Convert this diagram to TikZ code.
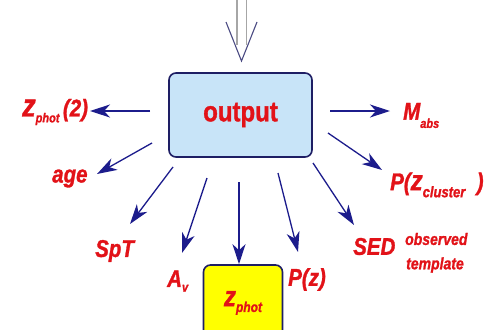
\documentclass[tikz,border=0pt]{standalone}
\usepackage{fontspec}
\setmainfont{Liberation Sans}
\newfontfamily\hvi{Liberation Sans Bold Italic}[FakeBold=1.3]
\newfontfamily\hvb{Liberation Sans Bold}[FakeBold=1.3]
\usetikzlibrary{arrows.meta}
\definecolor{lred}{RGB}{226,18,24}
\definecolor{navy}{RGB}{28,28,140}
\definecolor{boxnavy}{RGB}{30,30,100}
\definecolor{lblue}{RGB}{200,228,248}
\definecolor{yel}{RGB}{255,255,0}
\newcommand{\tall}[1]{\scalebox{1}[1.18]{#1}}
\newcommand{\fs}[1]{\fontsize{#1}{#1}\selectfont}
\newcommand{\lowsub}[3]{\raisebox{-#1pt}{\fs{#2}#3}}
\tikzset{
  lbl/.style={text=lred, font=\hvi\fs{20.5}, inner sep=0pt, anchor=west},
  arr/.style={draw=navy, line width=1.3pt, -{Stealth[length=20pt,width=13pt,inset=6pt]}},
  outbox/.style={draw=boxnavy, line width=1.6pt, fill=lblue, rounded corners=7pt,
    minimum width=143pt, minimum height=84pt, inner sep=0pt},
  zbox/.style={draw=boxnavy, line width=1.6pt, fill=yel, rounded corners=7pt,
    minimum width=79pt, minimum height=76pt, inner sep=0pt}
}
\begin{document}
\begin{tikzpicture}[x=1pt,y=-1pt]
\fill[white] (0,0) rectangle (486,329);
\useasboundingbox (0,0) rectangle (486,329);
\clip (0,0) rectangle (486,329);
% top hollow arrow
\draw[gray!70, line width=1.2pt] (237,0) -- (237,45) (246.5,0) -- (246.5,45);
\draw[boxnavy!80, line width=1.1pt] (226,22) -- (241.5,61) -- (257,22);
% boxes
\node[outbox] (out) at (240.5,115) {\tall{\textcolor{lred}{\hvb\fs{24}output}}};
\node[zbox] (zp) at (243,303) {\tall{\textcolor{lred}{\hvi{\fs{24}z}\lowsub{5}{12}{phot}}}};
% labels
\node[lbl] (z2) at (22,112) {\tall{{\fs{27}z}\lowsub{5}{11}{phot}\,(2)}};
\node[lbl] (age) at (52,178.5) {\tall{age}};
\node[lbl] (spt) at (95,251) {\tall{SpT}};
\node[lbl] (av) at (167,281) {\tall{A\lowsub{4}{11}{v}}};
\node[lbl] (pz) at (288,279.5) {\tall{P(z)}};
\node[lbl] (sed) at (353,246.5) {\tall{SED}};
\node[lbl, font=\hvi\fs{14}] (obs) at (405,239) {\tall{observed}};
\node[lbl, font=\hvi\fs{14}] (tpl) at (406,265) {\tall{template}};
\node[lbl] (mabs) at (403,115.5) {\tall{M\lowsub{7}{11}{abs}}};
\node[lbl] (pzc) at (390,185) {\tall{P({\fs{24}z}\lowsub{6}{13}{cluster}\ \ )}};
% arrow end points
\coordinate (s1) at (150,111); \coordinate (t1) at (90,111);
\coordinate (s2) at (152,143); \coordinate (t2) at (97,174);
\coordinate (s3) at (173,167); \coordinate (t3) at (130,224);
\coordinate (s4) at (207,178); \coordinate (t4) at (182,253);
\coordinate (s5) at (239,182);
\coordinate (s6) at (278,173); \coordinate (t6) at (298,252);
\coordinate (s7) at (313,163); \coordinate (t7) at (354,225);
\coordinate (s8) at (328,133); \coordinate (t8) at (382,170);
\coordinate (s9) at (330,111); \coordinate (t9) at (390,111);
\draw[arr] (s1) -- (t1);
\draw[arr] (s2) -- (t2);
\draw[arr] (s3) -- (t3);
\draw[arr] (s4) -- (t4);
\draw[arr] (s5) -- (s5 |- zp.north);
\draw[arr] (s6) -- (t6);
\draw[arr] (s7) -- (t7);
\draw[arr] (s8) -- (t8);
\draw[arr] (s9) -- (t9);
\end{tikzpicture}
\end{document}
